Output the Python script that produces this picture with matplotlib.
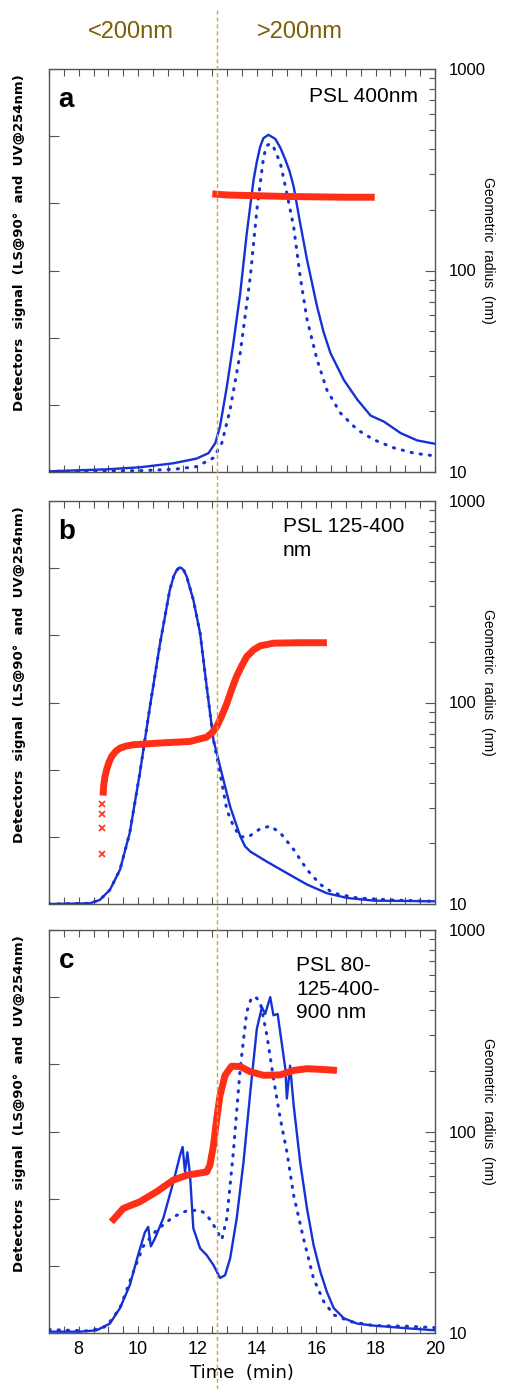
import numpy as np
import matplotlib
matplotlib.use("Agg")
import matplotlib.pyplot as plt
from matplotlib.lines import Line2D
from matplotlib.transforms import blended_transform_factory
from matplotlib.ticker import MultipleLocator, LogLocator, NullFormatter, FixedLocator

# ---- data ----
# panel a: PSL 400nm
a_solid_t = [7.0, 8.94, 10.06, 11.19, 11.97, 12.37, 12.6, 12.76, 12.99, 13.21, 13.44, 13.66, 13.89,
             14.0, 14.11, 14.22, 14.39, 14.62, 14.8, 14.96, 15.1, 15.24, 15.46, 15.69, 16.03,
             16.25, 16.48, 16.93, 17.38, 17.83, 18.28, 18.84, 19.4, 20.0]
a_solid_s = [0.01, 0.04, 0.07, 0.13, 0.2, 0.28, 0.43, 0.68, 1.27, 1.92, 2.66, 3.55, 4.35,
             4.62, 4.84, 4.97, 5.02, 4.96, 4.82, 4.65, 4.48, 4.25, 3.70, 3.16, 2.46,
             2.08, 1.77, 1.37, 1.08, 0.84, 0.75, 0.58, 0.47, 0.42]
a_dot_t = [7.0, 10.06, 11.19, 11.97, 12.54, 12.82, 13.1, 13.44, 13.78, 14.0, 14.23, 14.34, 14.45,
           14.56, 14.79, 15.01, 15.24, 15.46, 15.69, 16.03, 16.36, 16.81, 17.38, 17.94, 18.61,
           19.29, 20.0]
a_dot_s = [0.01, 0.02, 0.04, 0.08, 0.21, 0.43, 0.93, 1.77, 2.91, 3.9, 4.7, 4.86, 4.89,
           4.84, 4.6, 4.15, 3.65, 2.91, 2.27, 1.67, 1.22, 0.88, 0.63, 0.48, 0.36,
           0.28, 0.24]
a_red_t = [12.5, 13.0, 14.0, 15.0, 16.0, 17.0, 17.97]
a_red_r = [240, 237, 235, 233, 232, 231, 231]

# panel b: PSL 125-400 nm
b_solid_t = [7.0, 8.37, 8.71, 9.05, 9.39, 9.72, 10.06, 10.4, 10.74, 11.07, 11.2, 11.3, 11.4,
             11.47, 11.55, 11.64, 11.86, 12.09, 12.31, 12.54, 12.76, 13.1, 13.44, 13.6, 13.78,
             14.34, 15.01, 15.69, 16.36, 17.04, 17.94, 20.0]
b_solid_s = [0.0, 0.01, 0.06, 0.21, 0.51, 1.06, 1.95, 2.94, 3.88, 4.68, 4.88, 4.97, 5.01,
             5.0, 4.96, 4.87, 4.53, 4.03, 3.24, 2.44, 2.05, 1.45, 1.01, 0.86, 0.78,
             0.63, 0.46, 0.29, 0.16, 0.09, 0.05, 0.04]
b_dot_t = [7.0, 8.37, 8.71, 9.05, 9.39, 9.72, 10.06, 10.4, 10.74, 11.07, 11.2, 11.3, 11.4,
           11.47, 11.55, 11.64, 11.86, 12.09, 12.31, 12.54, 12.76, 12.99, 13.21, 13.44, 13.72,
           14.11, 14.45, 14.79, 15.24, 15.69, 16.14, 16.59, 17.38, 18.5, 20.0]
b_dot_s = [0.0, 0.01, 0.06, 0.21, 0.51, 1.06, 1.95, 2.94, 3.88, 4.68, 4.88, 4.97, 5.01,
           5.0, 4.96, 4.87, 4.53, 4.03, 3.24, 2.44, 1.95, 1.40, 1.16, 1.0, 1.0,
           1.12, 1.16, 1.06, 0.81, 0.51, 0.29, 0.16, 0.09, 0.06, 0.04]
b_red_pts_t = [8.8, 8.8, 8.8, 8.8]
b_red_pts_r = [17.7, 23.7, 27.9, 31.3]
b_red_t = [8.82, 8.84, 8.88, 8.94, 9.02, 9.11, 9.25, 9.39, 9.6, 9.84, 10.62, 11.75, 12.31,
           12.5, 12.65, 12.82, 12.99, 13.15, 13.32, 13.5, 13.66, 13.9, 14.11, 14.56, 15.46,
           16.36]
b_red_r = [34.5, 38.5, 42.5, 46.4, 50.5, 54, 57.3, 59.4, 60.8, 61.7, 62.8, 64.1, 67.3,
           71, 76, 86, 99, 116, 135, 153, 169, 183, 191, 197, 198,
           198]

# panel c: PSL 80-125-400-900 nm
c_solid_t = [7.0, 8.04, 8.6, 9.05, 9.39, 9.72, 10.0, 10.23, 10.34, 10.43, 10.57, 10.85, 11.19,
             11.41, 11.5, 11.58, 11.66, 11.75, 11.86, 12.09, 12.31, 12.54, 12.76, 12.93, 13.1,
             13.32, 13.55, 13.78, 14.0, 14.17, 14.28, 14.45, 14.56, 14.7, 14.85, 14.96, 15.01,
             15.12, 15.24, 15.46, 15.69, 15.91, 16.14, 16.36, 16.59, 16.93, 17.38, 17.94,
             19.07, 20.0]
c_solid_s = [0.02, 0.02, 0.04, 0.14, 0.37, 0.71, 1.16, 1.5, 1.58, 1.29, 1.41, 1.71, 2.25,
             2.64, 2.77, 2.4, 2.69, 2.35, 1.56, 1.26, 1.16, 1.01, 0.82, 0.86, 1.11,
             1.7, 2.54, 3.59, 4.53, 4.85, 4.75, 5.0, 4.73, 4.75, 4.28, 3.93, 3.49,
             3.98, 3.39, 2.54, 1.85, 1.31, 0.91, 0.61, 0.37, 0.22, 0.14, 0.11,
             0.07, 0.04]
c_dot_t = [7.0, 8.37, 8.94, 9.39, 9.84, 10.17, 10.62, 11.19, 11.64, 12.09, 12.31, 12.54, 12.82,
           12.99, 13.21, 13.44, 13.66, 13.8, 13.94, 14.11, 14.34, 14.56, 14.79, 15.01, 15.24,
           15.57, 15.91, 16.25, 16.59, 17.15, 17.94, 19.07, 20.0]
c_dot_s = [0.05, 0.03, 0.1, 0.37, 0.91, 1.29, 1.53, 1.73, 1.82, 1.83, 1.76, 1.61, 1.39,
           1.71, 2.70, 3.94, 4.78, 4.97, 5.01, 4.93, 4.43, 3.79, 3.19, 2.70, 2.05,
           1.41, 0.81, 0.47, 0.27, 0.17, 0.11, 0.1, 0.08]
c_red_t = [9.1, 9.5, 10.06, 10.62, 11.19, 11.64, 12.31, 12.42, 12.54, 12.65, 12.76, 12.93,
           13.15, 13.44, 13.78, 14.23, 14.79, 15.24, 15.69, 16.25, 16.7]
c_red_r = [35.6, 41.5, 44.8, 50.2, 57.4, 60.7, 63, 68, 85.5, 116, 151, 190,
           211, 210, 198, 190, 191, 201, 205, 203, 201]

panel_letters = ["a", "b", "c"]
panel_titles = ["PSL 400nm", "PSL 125-400\nnm", "PSL 80-\n125-400-\n900 nm"]
split_time = 12.66

BLUE = "#1632d4"
RED = "#ff2e17"
GOLD = "#d9a531"
OLIVE = "#7d5f06"

W, H = 505, 1389
fig = plt.figure(figsize=(W / 100, H / 100), dpi=100)

# panel boxes in pixels (top, bottom)
boxes = [(69, 472), (501, 904), (930, 1333)]
left_px, right_px = 49, 435

panels = [
    (a_solid_t, a_solid_s, a_dot_t, a_dot_s, None, None, a_red_t, a_red_r),
    (b_solid_t, b_solid_s, b_dot_t, b_dot_s, b_red_pts_t, b_red_pts_r, b_red_t, b_red_r),
    (c_solid_t, c_solid_s, c_dot_t, c_dot_s, None, None, c_red_t, c_red_r),
]

axes = []
for i, (top, bot) in enumerate(boxes):
    ax = fig.add_axes([left_px / W, 1 - bot / H, (right_px - left_px) / W, (bot - top) / H])
    st, ss, dt, ds, pt, pr, rt, rr = panels[i]
    ax.plot(st, ss, color=BLUE, lw=1.7, zorder=3)
    ax.plot(dt, ds, color=BLUE, lw=2.2, linestyle=(0, (0.4, 2.6)), dash_capstyle="round", zorder=3)
    ax.set_xlim(7, 20)
    ax.set_ylim(0, 6)
    ax.yaxis.set_major_locator(MultipleLocator(1))
    ax.xaxis.set_major_locator(MultipleLocator(2))
    ax.xaxis.set_minor_locator(MultipleLocator(0.5))
    ax.tick_params(axis="y", which="both", direction="in", length=7, width=0.8, color="#555555",
                   labelleft=False, right=False)
    ax.tick_params(axis="x", which="both", direction="in", length=5, width=0.8, color="#555555",
                   top=True, labelbottom=(i == 2), labelsize=13, pad=6)
    for sp in ax.spines.values():
        sp.set_color("#555555")
        sp.set_linewidth(1.0)

    ax2 = ax.twinx()
    ax2.set_yscale("log")
    ax2.set_ylim(10, 1000)
    ax2.plot(rt, rr, color=RED, lw=5, solid_capstyle="butt", solid_joinstyle="round", zorder=4)
    if pt is not None:
        ax2.plot(pt, pr, color=RED, lw=0, marker="x", ms=4, mew=1.2, zorder=4)
    ax2.yaxis.set_major_locator(FixedLocator([10, 100, 1000]))
    ax2.yaxis.set_minor_locator(LogLocator(base=10, subs=np.arange(2, 10)))
    ax2.yaxis.set_minor_formatter(NullFormatter())
    ax2.set_yticklabels(["10", "100", "1000"], family="Liberation Sans", fontsize=12)
    ax2.tick_params(axis="y", which="major", direction="in", length=7, width=0.8, color="#555555", pad=10)
    ax2.tick_params(axis="y", which="minor", direction="in", length=4, width=0.8, color="#555555")
    for sp in ax2.spines.values():
        sp.set_visible(False)

    ax.text(0.025, 0.955, panel_letters[i], transform=ax.transAxes, fontsize=20, fontweight="bold",
            family="Liberation Sans", va="top", ha="left")
    if i == 0:
        ax.text(0.955, 0.955, panel_titles[i], transform=ax.transAxes, fontsize=15,
                family="Liberation Sans", va="top", ha="right")
    elif i == 1:
        ax.text(0.605, 0.96, panel_titles[i], transform=ax.transAxes, fontsize=15,
                family="Liberation Sans", va="top", ha="left", linespacing=1.3)
    else:
        ax.text(0.64, 0.935, panel_titles[i], transform=ax.transAxes, fontsize=15,
                family="Liberation Sans", va="top", ha="left", linespacing=1.3)

    mid = (top + bot) / 2 - 28
    fig.text(20 / W, 1 - mid / H, "Detectors  signal  (LS@90°  and  UV@254nm)", rotation=90,
             ha="center", va="center", fontsize=9.5, fontweight="bold")
    fig.text(488 / W, 1 - (mid + 8) / H, "Geometric  radius  (nm)", rotation=-90,
             ha="center", va="center", fontsize=10, family="Liberation Sans")
    axes.append(ax)

for lab in axes[2].get_xticklabels():
    lab.set_family("Liberation Sans")
axes[2].set_xlabel("Time  (min)", fontsize=13, labelpad=4)

# vertical split line across the whole figure
tr = blended_transform_factory(axes[0].transData, fig.transFigure)
fig.add_artist(Line2D([split_time, split_time], [1 - 10 / H, 0], transform=tr, color=GOLD,
                      lw=1.0, linestyle=(0, (3, 2)), zorder=10))

fig.text(131 / W, 1 - 32 / H, "<200nm", color=OLIVE, fontsize=17, family="Liberation Sans",
         ha="center", va="center")
fig.text(300 / W, 1 - 32 / H, ">200nm", color=OLIVE, fontsize=17, family="Liberation Sans",
         ha="center", va="center")

fig.savefig("out.png", dpi=100)
